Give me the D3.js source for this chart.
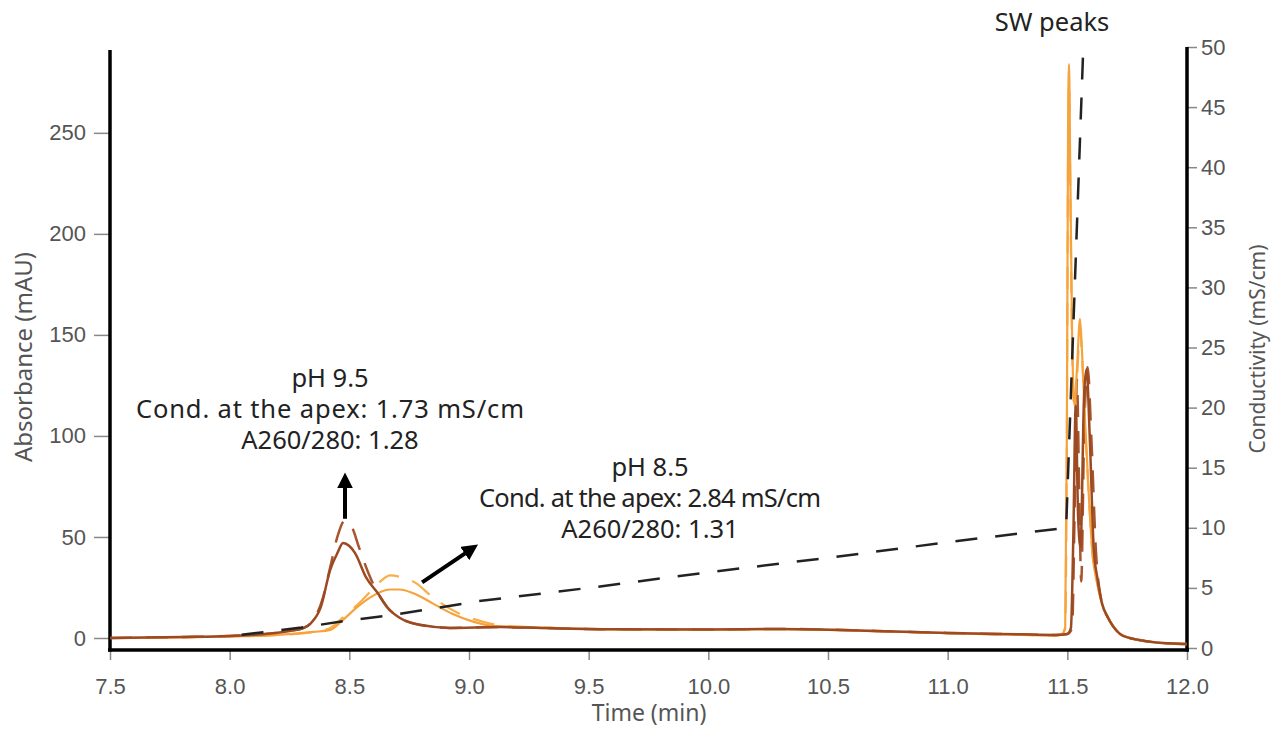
<!DOCTYPE html>
<html>
<head>
<meta charset="utf-8">
<script src="https://cdn.jsdelivr.net/npm/d3@7"></script>
<style>
  body { margin: 0; background: #fff; }
  svg { display: block; font-family: "Noto Sans", sans-serif; }
  .tick text { fill: #555; font-size: 22px; }
  .tick line { stroke: #888; stroke-width: 1.5; }
  .note { fill: #222; font-size: 25.5px; }
</style>
</head>
<body>
<svg id="chart"></svg>
<script>
// time (min) vs absorbance (mAU)
const ph95A280 = [[7.5,0],[7.8,0.5],[8.0,1],[8.15,2],[8.25,3.5],[8.31,5],[8.34,7.4],[8.38,15],[8.42,33.7],[8.45,42],[8.474,47],[8.5,45.5],[8.524,42],[8.57,30],[8.62,22],[8.66,15],[8.71,10],[8.8,6.4],[8.92,5],[9.13,5.4],[9.3,5],[9.6,4.3],[10.0,4.2],[10.3,4.5],[10.7,3.5],[11.0,2.5],[11.3,1.8],[11.45,1.5],[11.5,2],[11.515,5],[11.525,50],[11.535,115],[11.545,60],[11.555,45],[11.57,120],[11.58,133],[11.595,95],[11.61,45],[11.625,30],[11.645,17],[11.67,10],[11.69,6],[11.72,2],[11.76,0],[11.8,-1],[11.9,-2.5],[12.0,-3]];
const ph95A260 = [[7.5,0],[7.8,0.5],[8.0,1],[8.15,2],[8.25,3.5],[8.31,5],[8.35,9],[8.39,20],[8.42,35],[8.45,50],[8.48,58],[8.51,55],[8.54,45],[8.58,32],[8.62,22],[8.66,15],[8.71,10],[8.8,6.4],[8.92,5],[9.13,5.4],[9.3,5],[9.6,4.3],[10.0,4.2],[10.3,4.5],[10.7,3.5],[11.0,2.5],[11.3,1.8],[11.45,1.5],[11.5,2],[11.52,5],[11.53,60],[11.54,128],[11.55,70],[11.558,28],[11.57,100],[11.585,134],[11.6,100],[11.62,42],[11.64,20],[11.67,10],[11.69,6],[11.72,2],[11.76,0],[11.8,-1],[11.9,-2.5],[12.0,-3]];
const ph85A280 = [[7.5,0],[7.8,0.3],[8.0,0.8],[8.2,1.5],[8.35,3],[8.42,4],[8.474,9],[8.53,15],[8.586,20],[8.67,24],[8.71,24],[8.77,22],[8.85,17],[8.93,12],[9.02,8],[9.1,6],[9.3,5.2],[9.6,4.3],[10.0,4.2],[10.3,4.4],[10.7,3.4],[11.0,2.4],[11.3,1.6],[11.45,1.2],[11.478,2],[11.491,5],[11.498,100],[11.503,250],[11.507,284],[11.512,235],[11.52,150],[11.53,115],[11.541,135],[11.553,158],[11.562,140],[11.575,105],[11.59,70],[11.605,42],[11.625,27],[11.645,17],[11.67,10],[11.69,6],[11.72,2],[11.76,0],[11.8,-1],[11.9,-2.5],[12.0,-3]];
const ph85A260 = [[7.5,0],[7.8,0.3],[8.0,0.8],[8.2,1.5],[8.35,3],[8.42,5],[8.49,12],[8.53,16],[8.58,22],[8.63,28],[8.67,31],[8.72,30],[8.78,27],[8.84,21],[8.9,16],[8.96,12],[9.06,8],[9.15,6],[9.3,5.2],[9.6,4.3],[10.0,4.2],[10.3,4.4],[10.7,3.4],[11.0,2.4],[11.3,1.6],[11.45,1.2],[11.478,2],[11.491,5],[11.498,95],[11.503,240],[11.507,275],[11.512,225],[11.52,145],[11.53,112],[11.541,130],[11.553,152],[11.562,138],[11.575,104],[11.59,70],[11.605,42],[11.625,27],[11.645,17],[11.67,10],[11.69,6],[11.72,2],[11.76,0],[11.8,-1],[11.9,-2.5],[12.0,-3]];
// time (min) vs conductivity (mS/cm)
const conductivity = [[8.05,1.1],[8.3,1.7],[8.5,2.3],[8.7,2.8],[9.04,3.9],[9.5,5.0],[10.0,6.3],[10.5,7.5],[11.0,8.8],[11.495,10.0],[11.566,49.6]];

const xTicks = [7.5, 8.0, 8.5, 9.0, 9.5, 10.0, 10.5, 11.0, 11.5, 12.0];
const yTicks = [0, 50, 100, 150, 200, 250];
const condTicks = [0, 5, 10, 15, 20, 25, 30, 35, 40, 45, 50];

const notes95 = ["pH 9.5", "Cond. at the apex: 1.73 mS/cm", "A260/280: 1.28"];
const notes85 = ["pH 8.5", "Cond. at the apex: 2.84 mS/cm", "A260/280: 1.31"];

let width = 1274;
let height = 730;

let svg = d3.select("#chart").attr("width", width).attr("height", height);

let xScale = d3.scaleLinear().domain([7.5, 12.0]).range([110, 1187]);
let yScale = d3.scaleLinear().domain([-5.94, 291]).range([650, 50]);
let condScale = d3.scaleLinear().domain([0, 50]).range([648, 47]);

// axes
let xAxis = d3.axisBottom(xScale).tickValues(xTicks).tickFormat(d3.format(".1f")).tickSize(10).tickSizeOuter(0).tickPadding(18);
let yAxis = d3.axisLeft(yScale).tickValues(yTicks).tickSize(16).tickSizeOuter(0).tickPadding(8);
let condAxis = d3.axisRight(condScale).tickValues(condTicks).tickSize(10).tickSizeOuter(0).tickPadding(4);

svg.append("g").attr("transform", "translate(0,650)").call(xAxis).call(g => g.select(".domain").remove());
svg.append("g").attr("transform", "translate(110,0)").call(yAxis).call(g => g.select(".domain").remove());
svg.append("g").attr("transform", "translate(1187,0)").call(condAxis).call(g => g.select(".domain").remove());

// heavy black frame lines
svg.append("line").attr("x1", 108).attr("x2", 1189).attr("y1", 650).attr("y2", 650).attr("stroke", "#000").attr("stroke-width", 3.5);
svg.append("line").attr("x1", 110).attr("x2", 110).attr("y1", 50).attr("y2", 651.5).attr("stroke", "#000").attr("stroke-width", 3.5);
svg.append("line").attr("x1", 1187).attr("x2", 1187).attr("y1", condScale(50)).attr("y2", 651.5).attr("stroke", "#000").attr("stroke-width", 3.5);

// axis titles
svg.append("text").attr("x", 649).attr("y", 721).attr("text-anchor", "middle").attr("fill", "#555").style("font-size", "23px").text("Time (min)");
svg.append("text").attr("transform", "translate(32,357) rotate(-90)").attr("text-anchor", "middle").attr("fill", "#555").style("font-size", "24px").text("Absorbance (mAU)");
svg.append("text").attr("transform", "translate(1265,349) rotate(-90)").attr("text-anchor", "middle").attr("fill", "#555").style("font-size", "21px").text("Conductivity (mS/cm)");

// traces
let absLine = d3.line().x(d => xScale(d[0])).y(d => yScale(d[1])).curve(d3.curveMonotoneX);
let condLine = d3.line().x(d => xScale(d[0])).y(d => condScale(d[1]));

let traces = [
  { data: ph85A260, color: "#f9ae4a", dash: "22,14", w: 2.2 },
  { data: ph95A260, color: "#a8552e", dash: "22,14", w: 2.5 },
  { data: ph85A280, color: "#f7a33c", dash: null, w: 2.2 },
  { data: ph95A280, color: "#9c4a22", dash: null, w: 2.5 }
];

traces.forEach(t => {
  svg.append("path")
    .datum(t.data)
    .attr("d", absLine)
    .attr("fill", "none")
    .attr("stroke", t.color)
    .attr("stroke-width", t.w)
    .attr("stroke-dasharray", t.dash);
});

svg.append("path")
  .datum(conductivity)
  .attr("d", condLine)
  .attr("fill", "none")
  .attr("stroke", "#222")
  .attr("stroke-width", 2.5)
  .attr("stroke-dasharray", "22,18");

// annotations
let defs = svg.append("defs");
defs.append("marker")
  .attr("id", "head")
  .attr("viewBox", "0 0 10 10")
  .attr("refX", 5).attr("refY", 5)
  .attr("markerWidth", 4).attr("markerHeight", 4)
  .attr("orient", "auto")
  .append("path").attr("d", "M0,0 L10,5 L0,10 z").attr("fill", "#000");

svg.append("line")
  .attr("x1", xScale(8.482)).attr("y1", yScale(59))
  .attr("x2", xScale(8.482)).attr("y2", yScale(78))
  .attr("stroke", "#000").attr("stroke-width", 4).attr("marker-end", "url(#head)");

svg.append("line")
  .attr("x1", xScale(8.804)).attr("y1", yScale(27.5))
  .attr("x2", xScale(9.01)).attr("y2", yScale(44))
  .attr("stroke", "#000").attr("stroke-width", 4).attr("marker-end", "url(#head)");

let condWidths = [388, 342];

let block95 = svg.append("text").attr("class", "note").attr("text-anchor", "middle");
notes95.forEach((s, i) => {
  let t = block95.append("tspan").attr("x", 330).attr("y", 387 + i * 31).text(s);
  if (i === 1) t.attr("textLength", condWidths[0]).attr("lengthAdjust", "spacing");
});

let block85 = svg.append("text").attr("class", "note").attr("text-anchor", "middle");
notes85.forEach((s, i) => {
  let t = block85.append("tspan").attr("x", 650).attr("y", 476 + i * 31).text(s);
  if (i === 1) t.attr("textLength", condWidths[1]).attr("lengthAdjust", "spacing");
});

svg.append("text").attr("class", "note").attr("x", 1052).attr("y", 31).attr("text-anchor", "middle").text("SW peaks");
</script>
</body>
</html>
